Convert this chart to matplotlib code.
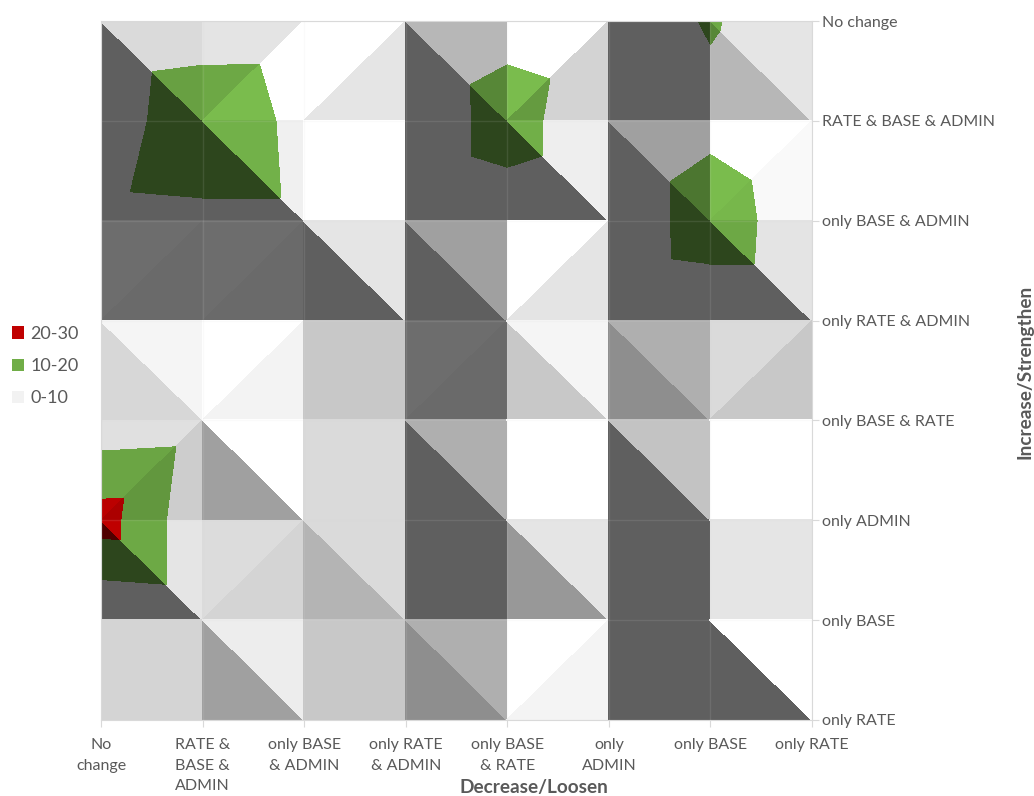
# -*- coding:utf-8 -*-
import matplotlib
matplotlib.use('Agg')
import matplotlib.pyplot as plt
import matplotlib.tri as mtri
from matplotlib.patches import Patch
import numpy as np

x_labels = ['No\nchange', 'RATE &\nBASE &\nADMIN', 'only BASE\n& ADMIN', 'only RATE\n& ADMIN',
            'only BASE\n& RATE', 'only\nADMIN', 'only BASE', 'only RATE']
y_labels = ['No change', 'RATE & BASE & ADMIN', 'only BASE & ADMIN', 'only RATE & ADMIN',
            'only BASE & RATE', 'only ADMIN', 'only BASE', 'only RATE']

# 每行一个 Increase 类别，每列一个 Decrease 类别
z_row0 = [1.7, 3.6, 3.7, 1.5, 6.2, 3.3, 10.9, 2.6]
z_row1 = [3.2, 18.0, 6.9, 1.1, 14.8, 1.0, 7.0, 1.3]
z_row2 = [6.7, 7.6, 7.6, 1.1, 4.4, 1.0, 15.8, 3.1]
z_row3 = [3.0, 3.0, 0.5, 2.0, 1.0, 0.5, 2.3, 2.3]
z_row4 = [3.6, 4.8, 1.5, 1.0, 1.0, 1.0, 1.0, 1.0]
z_row5 = [24.3, 2.0, 2.0, 1.0, 0.5, 1.0, 0.3, 0.3]
z_row6 = [0.1, 1.9, 1.5, 1.0, 0.5, 0.2, 0.2, 0.2]
z_row7 = [1.0, 1.0, 0.5, 0.5, 0.2, 0.2, 0.2, 0.2]

band_levels = [0, 10, 20, 30]
band_names = ['0-10', '10-20', '20-30']
band_colors = ['#f2f2f2', '#70ad47', '#c00000']

# 每个格子: 对角线方向, 两个三角形的灰度 (d: 左下/右上, a: 左上/右下)
cell_shade = [
    [('d', 95, 218), ('a', 228, 255), ('a', 255, 229), ('d', 95, 183), ('a', 255, 211), ('d', 95, 95), ('d', 183, 229)],
    [('a', 95, 95), ('d', 95, 240), ('d', 255, 255), ('a', 95, 95), ('d', 95, 238), ('d', 95, 160), ('a', 255, 249)],
    [('a', 109, 106), ('a', 109, 106), ('d', 95, 229), ('d', 95, 160), ('a', 255, 228), ('a', 95, 95), ('d', 95, 228)],
    [('d', 215, 245), ('a', 255, 243), ('d', 200, 200), ('a', 109, 106), ('d', 200, 245), ('d', 142, 175), ('a', 218, 200)],
    [('a', 224, 205), ('d', 160, 255), ('d', 218, 218), ('d', 95, 175), ('d', 255, 255), ('d', 95, 195), ('d', 255, 255)],
    [('d', 95, 229), ('a', 220, 212), ('d', 180, 218), ('d', 95, 95), ('d', 152, 229), ('d', 95, 95), ('d', 229, 229)],
    [('d', 212, 212), ('d', 160, 237), ('d', 200, 200), ('d', 142, 175), ('a', 255, 244), ('d', 95, 95), ('d', 95, 255)],
]


# 按光照灰度调整分段颜色
def shadedColors(shade):
    scales = [shade / 242, shade / 235, shade / 230]
    colors = []
    for name, scale in zip(band_colors, scales):
        rgb = np.array(matplotlib.colors.to_rgb(name))
        colors.append(tuple(np.clip(rgb * scale, 0, 1)))
    return colors


# 画一个三角形
def drawTriangle(ax, Z, nodes, shade):
    tx = [n[1] for n in nodes]
    ty = [n[0] for n in nodes]
    tz = [Z[n[0], n[1]] for n in nodes]
    tri = mtri.Triangulation(tx, ty, triangles=[[0, 1, 2]])
    cs = ax.tricontourf(tri, tz, levels=band_levels, colors=shadedColors(shade), zorder=1)
    cs.set_edgecolor('face')
    cs.set_linewidth(0.3)


Z = np.array([z_row0, z_row1, z_row2, z_row3, z_row4, z_row5, z_row6, z_row7])

plt.rcParams['font.family'] = ['Lato', 'DejaVu Sans']
fig = plt.figure(figsize=(10.34, 7.96), dpi=100)
ax = fig.add_axes([101 / 1034, 1 - 720 / 796, 711 / 1034, 699 / 796])

for r in range(7):
    for c in range(7):
        kind, s1, s2 = cell_shade[r][c]
        tl, tr, bl, br = (r, c), (r, c + 1), (r + 1, c), (r + 1, c + 1)
        if kind == 'd':
            drawTriangle(ax, Z, [tl, bl, br], s1)
            drawTriangle(ax, Z, [tl, tr, br], s2)
        else:
            drawTriangle(ax, Z, [tl, tr, bl], s1)
            drawTriangle(ax, Z, [tr, bl, br], s2)

ax.set_xlim(0, 7)
ax.set_ylim(7, 0)
ax.set_xticks(range(8))
ax.set_yticks(range(8))
ax.set_xticklabels(x_labels, linespacing=1.6)
ax.set_yticklabels(y_labels)
ax.yaxis.tick_right()
ax.tick_params(axis='both', length=5, width=0.8, color='#d9d9d9', labelcolor='#595959', labelsize=11.5)
ax.tick_params(axis='x', pad=8)
ax.tick_params(axis='y', pad=2)
ax.grid(True, color='#d9d9d9', linewidth=1, alpha=0.12, zorder=2)
ax.set_axisbelow(False)
for sp in ax.spines.values():
    sp.set_color('#d9d9d9')
    sp.set_linewidth(0.8)

fig.text(534 / 1034, 1 - 788 / 796, 'Decrease/Loosen', ha='center', va='center', fontsize=13.7,
         fontweight='bold', color='#595959')
fig.text(1025 / 1034, 1 - 372 / 796, 'Increase/Strengthen', ha='center', va='center', rotation=90,
         fontsize=13.7, fontweight='bold', color='#595959')

handles = [Patch(facecolor=band_colors[i], label=band_names[i]) for i in [2, 1, 0]]
fig.legend(handles=handles, loc='center left', bbox_to_anchor=(12 / 1034, 1 - 366 / 796), frameon=False,
           fontsize=13, labelcolor='#595959', handlelength=0.67, handleheight=0.67, handletextpad=0.33,
           labelspacing=0.89, borderaxespad=0, borderpad=0)

fig.savefig('out.png', dpi=100)
